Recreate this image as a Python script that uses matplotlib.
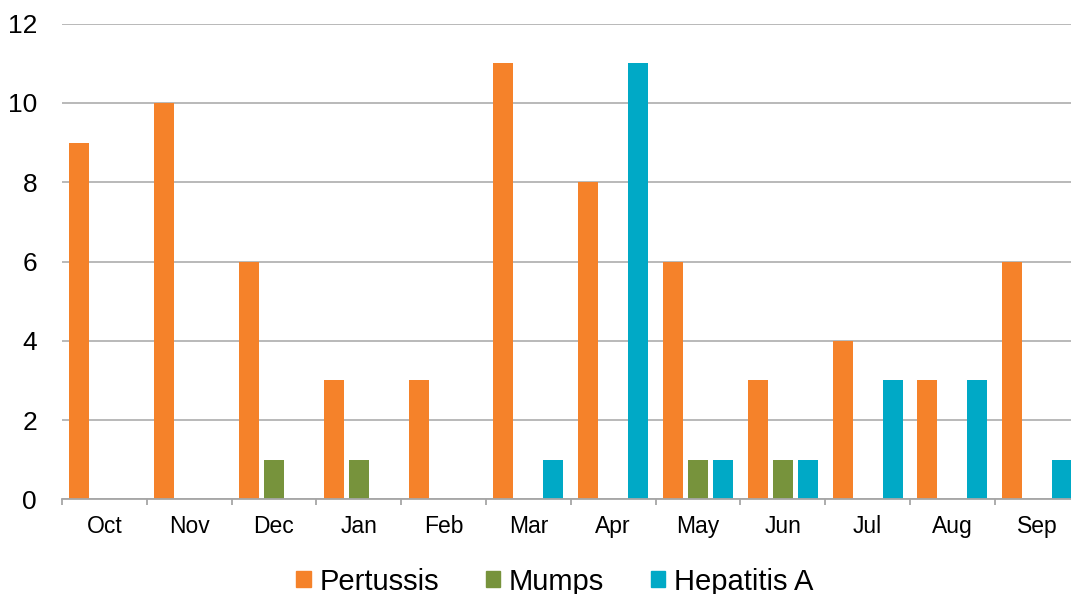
import numpy as np
import matplotlib
matplotlib.use("Agg")
import matplotlib.pyplot as plt
from matplotlib.patches import Patch

plt.rcParams['font.family'] = ['Liberation Sans', 'DejaVu Sans']

months = ["Oct", "Nov", "Dec", "Jan", "Feb", "Mar", "Apr", "May", "Jun", "Jul", "Aug", "Sep"]
pertussis = [9, 10, 6, 3, 3, 11, 8, 6, 3, 4, 3, 6]
mumps = [0, 0, 1, 1, 0, 0, 0, 1, 1, 0, 0, 0]
hepatitis_a = [0, 0, 0, 0, 0, 1, 11, 1, 1, 3, 3, 1]

series = [("Pertussis", pertussis, "#F5822A"),
          ("Mumps", mumps, "#77933C"),
          ("Hepatitis A", hepatitis_a, "#00A9C6")]

W, H = 1071, 594
fig = plt.figure(figsize=(W / 100, H / 100), dpi=100)
x0, x1 = 62, 1079.6
y0, y1 = 499.3, 23.7
ax = fig.add_axes([x0 / W, (H - y0) / H, (x1 - x0) / W, (y0 - y1) / H])

x = np.arange(len(months))
bw = 20 / 84.8
step = 25 / 84.8
for i, (name, vals, col) in enumerate(series):
    ax.bar(x + (i - 1) * step, vals, width=bw, color=col, zorder=3)

ax.set_xlim(-0.5, len(months) - 0.5)
ax.set_ylim(0, 12)
ax.set_yticks(range(0, 13, 2))
ax.yaxis.grid(True, color="#b3b3b3", linewidth=1.3, zorder=0)
for s in ["left", "right", "top"]:
    ax.spines[s].set_visible(False)
ax.spines["bottom"].set_color("#a6a6a6")
ax.spines["bottom"].set_linewidth(1.3)
ax.spines["bottom"].set_zorder(4)

# category boundary ticks, labels centred between them
ax.set_xticks(np.arange(-0.5, len(months), 1.0))
ax.set_xticklabels([])
ax.set_xticks(x, minor=True)
ax.set_xticklabels(months, minor=True, fontsize=16.5)
ax.tick_params(axis="x", which="major", length=4.5, width=1.3, color="#a6a6a6", direction="out")
ax.tick_params(axis="x", which="minor", length=0, pad=11)
ax.tick_params(axis="y", length=0, labelsize=19, pad=18)

handles = [Patch(color=c, label=n) for n, v, c in series]
fig.legend(handles=handles, loc="center", bbox_to_anchor=(0.518, 0.021), ncol=3,
           frameon=False, fontsize=21, handlelength=0.5, handleheight=0.5,
           handletextpad=0.3, columnspacing=1.6)

fig.savefig("out.png", dpi=100)
